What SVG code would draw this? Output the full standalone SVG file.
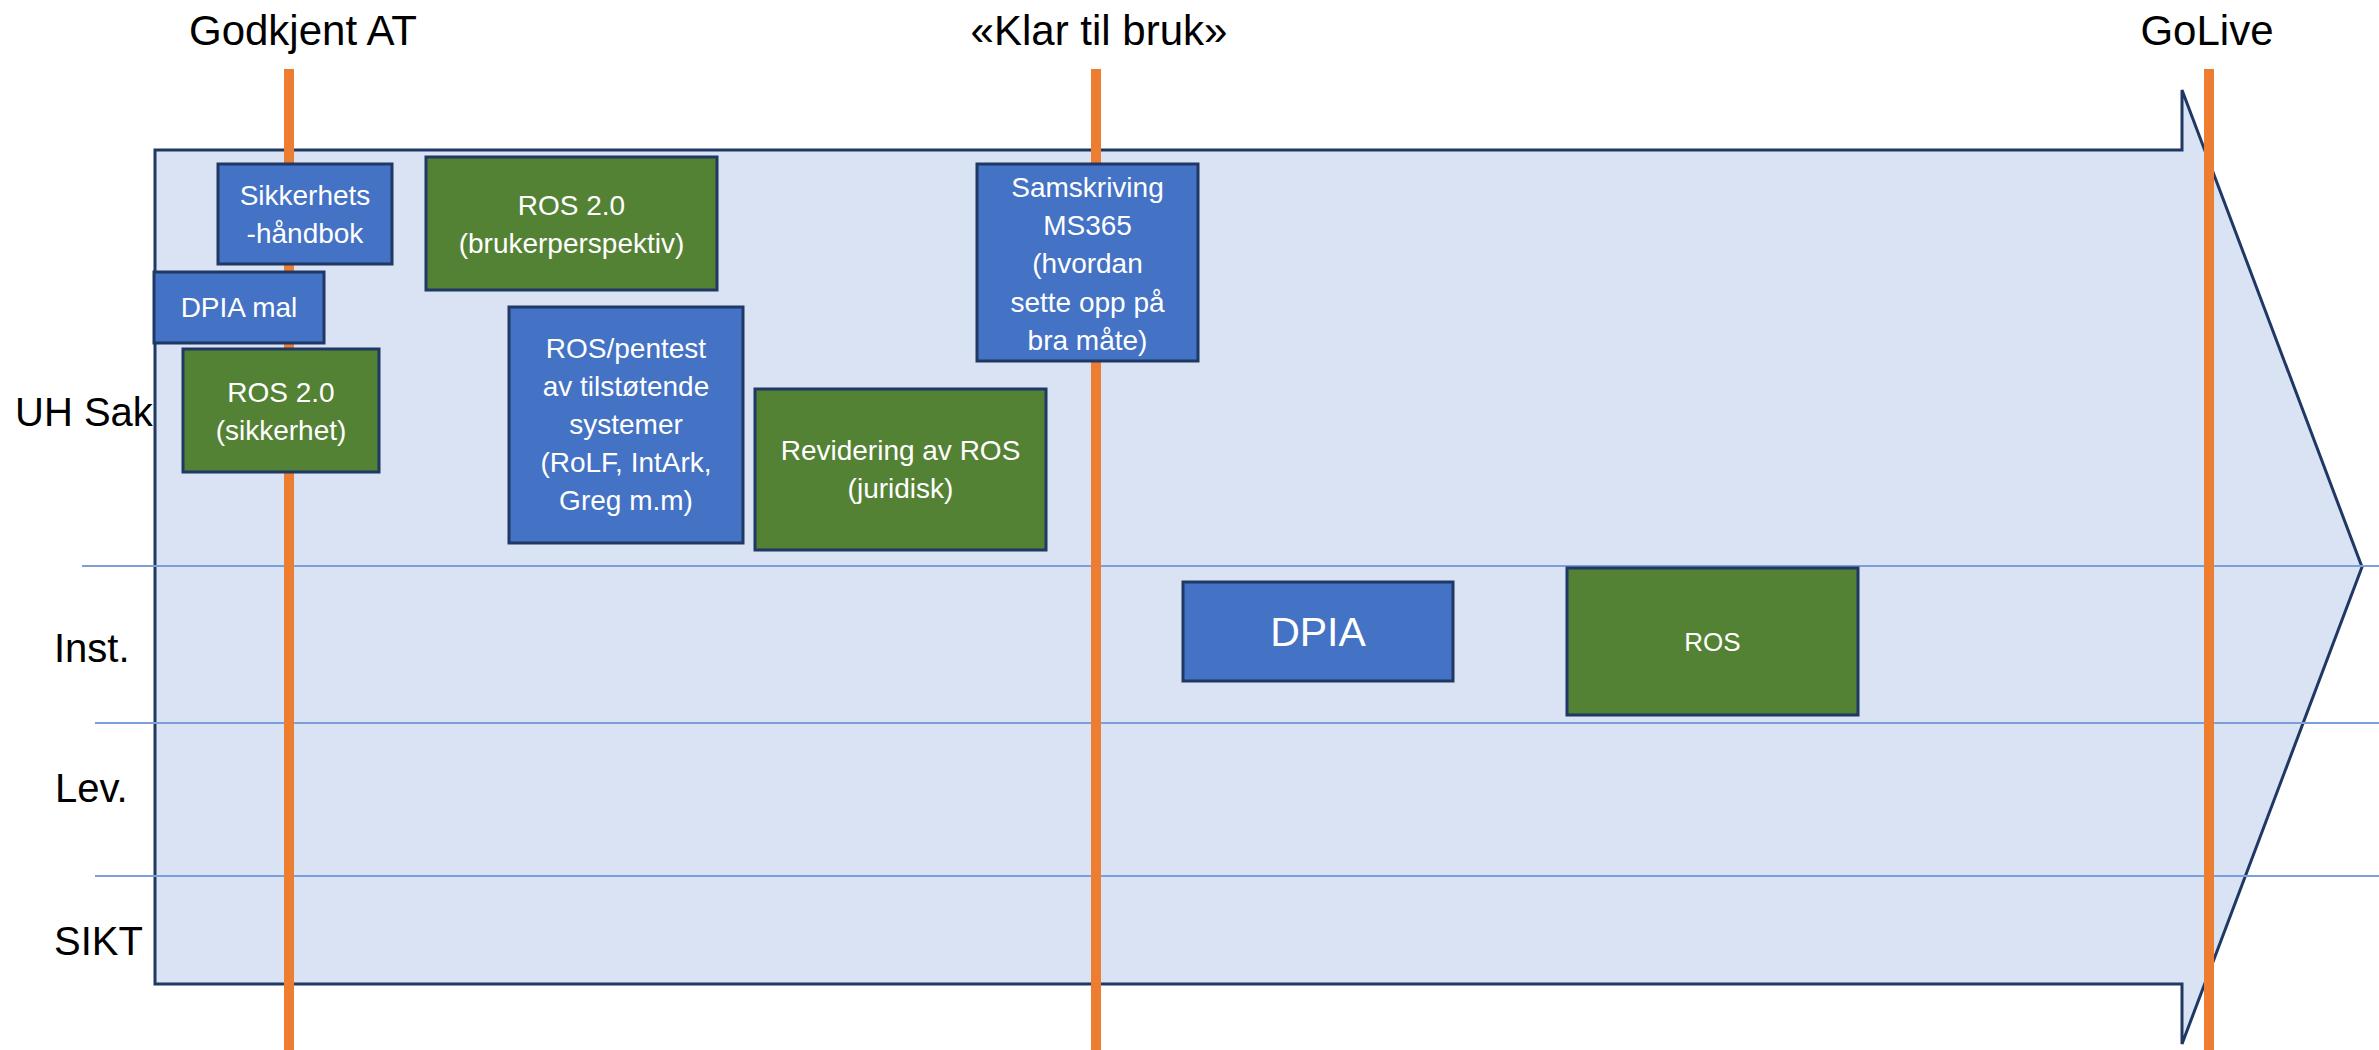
<svg xmlns="http://www.w3.org/2000/svg" width="2379" height="1050" viewBox="0 0 2379 1050">
<style>
text{font-family:"Liberation Sans",Arial,sans-serif}
.title{font-size:42px;fill:#000;text-anchor:middle}
.lane{font-size:40px;fill:#000}
.box{stroke:#1f3864;stroke-width:3}
.blue{fill:#4472c4}
.green{fill:#548235}
.bt{font-size:28px;fill:#fff;text-anchor:middle}
.sep{stroke:#7c9fdc;stroke-width:2}
.ms{stroke:#ed7d31;stroke-width:10}
</style>
<rect width="2379" height="1050" fill="#fff"/>
<g id="timeline-arrow">
<polygon points="155,150 2182,150 2182,90 2362,567 2182,1044 2182,984 155,984" fill="#dae3f3" stroke="#1f3864" stroke-width="3" stroke-linejoin="miter"/>
</g>
<g id="lanes">
<line class="sep" x1="82" y1="566" x2="2379" y2="566"/>
<line class="sep" x1="95" y1="723" x2="2379" y2="723"/>
<line class="sep" x1="95" y1="876" x2="2379" y2="876"/>
<text class="lane" x="15" y="426">UH Sak</text>
<text class="lane" x="54" y="662">Inst.</text>
<text class="lane" x="55" y="802">Lev.</text>
<text class="lane" x="54" y="955">SIKT</text>
</g>
<g id="milestones">
<line class="ms" x1="289" y1="69" x2="289" y2="1050"/>
<line class="ms" x1="1096" y1="69" x2="1096" y2="1050"/>
<line class="ms" x1="2209" y1="69" x2="2209" y2="1050"/>
<text class="title" x="303" y="45">Godkjent AT</text>
<text class="title" x="1099" y="45">«Klar til bruk»</text>
<text class="title" x="2207" y="45">GoLive</text>
</g>
<g id="sikkerhetshandbok">
<rect class="box blue" x="218" y="164" width="174" height="100"/>
<text class="bt" x="305" y="205">Sikkerhets</text>
<text class="bt" x="305" y="243">-håndbok</text>
</g>
<g id="ros-brukerperspektiv">
<rect class="box green" x="426" y="157" width="291" height="133"/>
<text class="bt" x="571.5" y="215">ROS 2.0</text>
<text class="bt" x="571.5" y="253">(brukerperspektiv)</text>
</g>
<g id="dpia-mal">
<rect class="box blue" x="154" y="272" width="170" height="71"/>
<text class="bt" x="239" y="317">DPIA mal</text>
</g>
<g id="ros-sikkerhet">
<rect class="box green" x="183" y="349" width="196" height="123"/>
<text class="bt" x="281" y="402">ROS 2.0</text>
<text class="bt" x="281" y="440">(sikkerhet)</text>
</g>
<g id="ros-pentest">
<rect class="box blue" x="509" y="307" width="234" height="236"/>
<text class="bt" x="626" y="358">ROS/pentest</text>
<text class="bt" x="626" y="396">av tilstøtende</text>
<text class="bt" x="626" y="434">systemer</text>
<text class="bt" x="626" y="472">(RoLF, IntArk,</text>
<text class="bt" x="626" y="510">Greg m.m)</text>
</g>
<g id="revidering-ros">
<rect class="box green" x="755" y="389" width="291" height="161"/>
<text class="bt" x="900.5" y="460">Revidering av ROS</text>
<text class="bt" x="900.5" y="498">(juridisk)</text>
</g>
<g id="samskriving">
<rect class="box blue" x="977" y="164" width="221" height="197"/>
<text class="bt" x="1087.5" y="197">Samskriving</text>
<text class="bt" x="1087.5" y="235">MS365</text>
<text class="bt" x="1087.5" y="273">(hvordan</text>
<text class="bt" x="1087.5" y="312">sette opp på</text>
<text class="bt" x="1087.5" y="350">bra måte)</text>
</g>
<g id="dpia">
<rect class="box blue" x="1183" y="582" width="270" height="99"/>
<text x="1318" y="646" font-size="41" fill="#fff" text-anchor="middle">DPIA</text>
</g>
<g id="ros-inst">
<rect class="box green" x="1567" y="568" width="291" height="147"/>
<text x="1712.5" y="651" font-size="26" fill="#fff" text-anchor="middle">ROS</text>
</g>
</svg>
